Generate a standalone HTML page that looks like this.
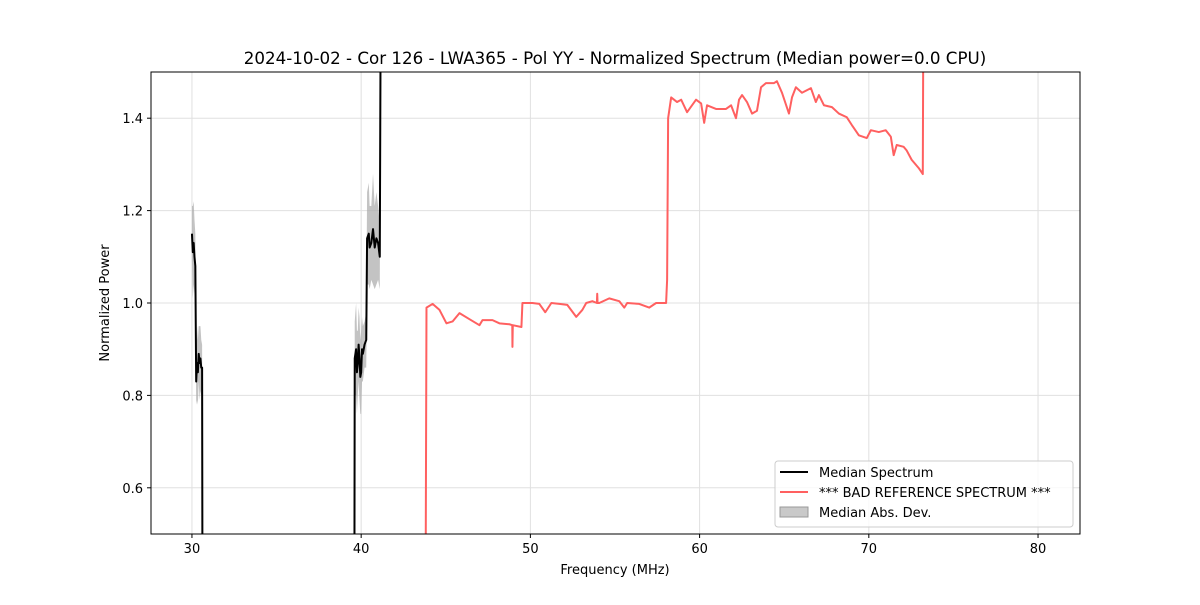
<!DOCTYPE html>
<html><head><meta charset="utf-8"><style>
body{margin:0;background:#fff}
svg text{font-family:"DejaVu Sans","Liberation Sans",sans-serif;fill:#000}
</style></head><body>
<svg width="1200" height="600" xmlns="http://www.w3.org/2000/svg">
<g id="grid"></g>
<g id="marks"></g>
<rect x="151" y="72" width="929" height="462" fill="none" stroke="#000" stroke-width="1"/>
<g id="ticks"></g>
<text x="615" y="64" font-size="16.7" text-anchor="middle">2024-10-02 - Cor 126 - LWA365 - Pol YY - Normalized Spectrum (Median power=0.0 CPU)</text>
<text x="615" y="574" font-size="13" text-anchor="middle">Frequency (MHz)</text>
<text x="109" y="303" font-size="13" text-anchor="middle" transform="rotate(-90 109 303)">Normalized Power</text>
<g>
<rect x="775" y="461" width="298" height="66" rx="3" fill="#fff" fill-opacity="0.8" stroke="#ccc"/>
<line x1="780" y1="472" x2="808" y2="472" stroke="#000" stroke-width="2"/>
<text x="819" y="477" font-size="13">Median Spectrum</text>
<line x1="780" y1="492" x2="808" y2="492" stroke="#ff6060" stroke-width="2"/>
<text x="819" y="497" font-size="13">*** BAD REFERENCE SPECTRUM ***</text>
<rect x="780" y="507" width="28" height="10" fill="#bbb" fill-opacity="0.8" stroke="#999"/>
<text x="819" y="517" font-size="13">Median Abs. Dev.</text>
</g>
</svg>
<script>
const xTicks=[30,40,50,60,70,80];
const yTicks=[0.6,0.8,1.0,1.2,1.4];
const yTickLabels=["0.6","0.8","1.0","1.2","1.4"];
const medF1=[30.0,30.05,30.1,30.15,30.2,30.25,30.3,30.35,30.4,30.45,30.5,30.55,30.6,30.62];
const medV1=[1.15,1.11,1.13,1.10,1.08,0.83,0.87,0.85,0.89,0.87,0.88,0.86,0.86,0.40];
const medF2=[39.6,39.62,39.7,39.75,39.8,39.85,39.9,39.95,40.0,40.05,40.1,40.2,40.3,40.35,40.45,40.5,40.6,40.7,40.8,40.9,41.0,41.1,41.15,41.2];
const medV2=[0.40,0.88,0.90,0.85,0.87,0.91,0.88,0.84,0.85,0.90,0.89,0.91,0.92,1.14,1.15,1.12,1.13,1.16,1.12,1.14,1.13,1.10,1.60,1.60];
const madW1=[0.06,0.10,0.09,0.08,0.07,0.05,0.08,0.07,0.06,0.08,0.07,0.06,0.05,0.0];
const madW2=[0.0,0.08,0.10,0.09,0.07,0.08,0.09,0.08,0.09,0.07,0.06,0.05,0.06,0.10,0.11,0.09,0.08,0.12,0.09,0.10,0.08,0.07,0.0,0.0];
const redF=[43.81,43.86,44.22,44.63,45.04,45.40,45.81,46.40,46.99,47.17,47.76,48.17,48.76,48.93,48.94,48.96,49.47,49.53,50.12,50.53,50.88,51.24,51.71,52.18,52.71,53.07,53.30,53.66,53.93,53.95,53.97,54.07,54.66,55.25,55.55,55.72,56.43,57.02,57.43,58.02,58.08,58.14,58.32,58.67,58.91,59.26,59.79,60.09,60.27,60.44,60.97,61.56,61.86,62.15,62.33,62.51,62.80,63.10,63.39,63.63,63.92,64.40,64.57,64.87,65.28,65.46,65.69,66.05,66.58,66.87,67.05,67.35,67.82,68.23,68.70,69.00,69.41,69.88,70.12,70.59,71.00,71.30,71.47,71.65,72.06,72.24,72.53,72.95,73.19,73.22];
const redV=[0.40,0.99,0.998,0.985,0.956,0.96,0.978,0.965,0.952,0.963,0.963,0.956,0.954,0.952,0.905,0.952,0.948,1.0,1.0,0.998,0.98,1.0,0.998,0.996,0.97,0.985,1.0,1.004,1.0,1.02,1.0,1.0,1.01,1.004,0.99,1.0,0.998,0.99,1.0,1.0,1.05,1.40,1.445,1.435,1.44,1.413,1.44,1.432,1.39,1.428,1.42,1.42,1.428,1.40,1.44,1.45,1.435,1.41,1.416,1.467,1.476,1.476,1.48,1.455,1.41,1.445,1.467,1.455,1.465,1.435,1.45,1.428,1.424,1.41,1.402,1.385,1.363,1.357,1.374,1.37,1.374,1.36,1.32,1.342,1.338,1.33,1.31,1.292,1.279,1.60];
const X=f=>151+(f-27.58)/(82.48-27.58)*929;
const Y=v=>534-(v-0.5)*462;
const NS="http://www.w3.org/2000/svg";
function mk(tag,attrs,parent){const e=document.createElementNS(NS,tag);for(const k in attrs)e.setAttribute(k,attrs[k]);parent.appendChild(e);return e;}
const grid=document.getElementById('grid'),ticks=document.getElementById('ticks'),marks=document.getElementById('marks');
xTicks.forEach(t=>{const x=X(t);
 const g=mk('line',{x1:x,x2:x,y1:72,y2:534,stroke:'#e0e0e0','stroke-width':1},grid);
 
 
 const tk=mk('line',{x1:x,x2:x,y1:534,y2:538,stroke:'#000'},ticks);
 
 
 const tx=mk('text',{x:x,y:553,'font-size':13,'text-anchor':'middle'},ticks);tx.textContent=t;
 
 
});
yTicks.forEach((t,i)=>{const y=Y(t);
 const g=mk('line',{x1:151,x2:1080,y1:y,y2:y,stroke:'#e0e0e0','stroke-width':1},grid);
 
 
 const tk=mk('line',{x1:147,x2:151,y1:y,y2:y,stroke:'#000'},ticks);
 
 
 const tx=mk('text',{x:143,y:y+5,'font-size':13,'text-anchor':'end'},ticks);tx.textContent=yTickLabels[i];
 
 
});
const clip=mk('clipPath',{id:'pc'},marks);mk('rect',{x:151,y:72,width:929,height:462},clip);
const cg=mk('g',{'clip-path':'url(#pc)'},marks);
function band(F,V,W,name){let up=F.map((f,i)=>X(f)+','+Y(V[i]+W[i]));let dn=F.map((f,i)=>X(f)+','+Y(V[i]-W[i])).reverse();
 const p=mk('polygon',{points:up.concat(dn).join(' '),fill:'#aaa','fill-opacity':0.7},cg);
 
 }
function line(F,V,color,name){const p=mk('polyline',{points:F.map((f,i)=>X(f)+','+Y(V[i])).join(' '),fill:'none',stroke:color,'stroke-width':2,'stroke-linejoin':'round'},cg);
 
 }
band(medF1,medV1,madW1,'mad-band-1');
band(medF2,medV2,madW2,'mad-band-2');
line(redF,redV,'#ff6060','bad-reference-line');
line(medF1,medV1,'#000','median-line-1');
line(medF2,medV2,'#000','median-line-2');
</script>
</body></html>
